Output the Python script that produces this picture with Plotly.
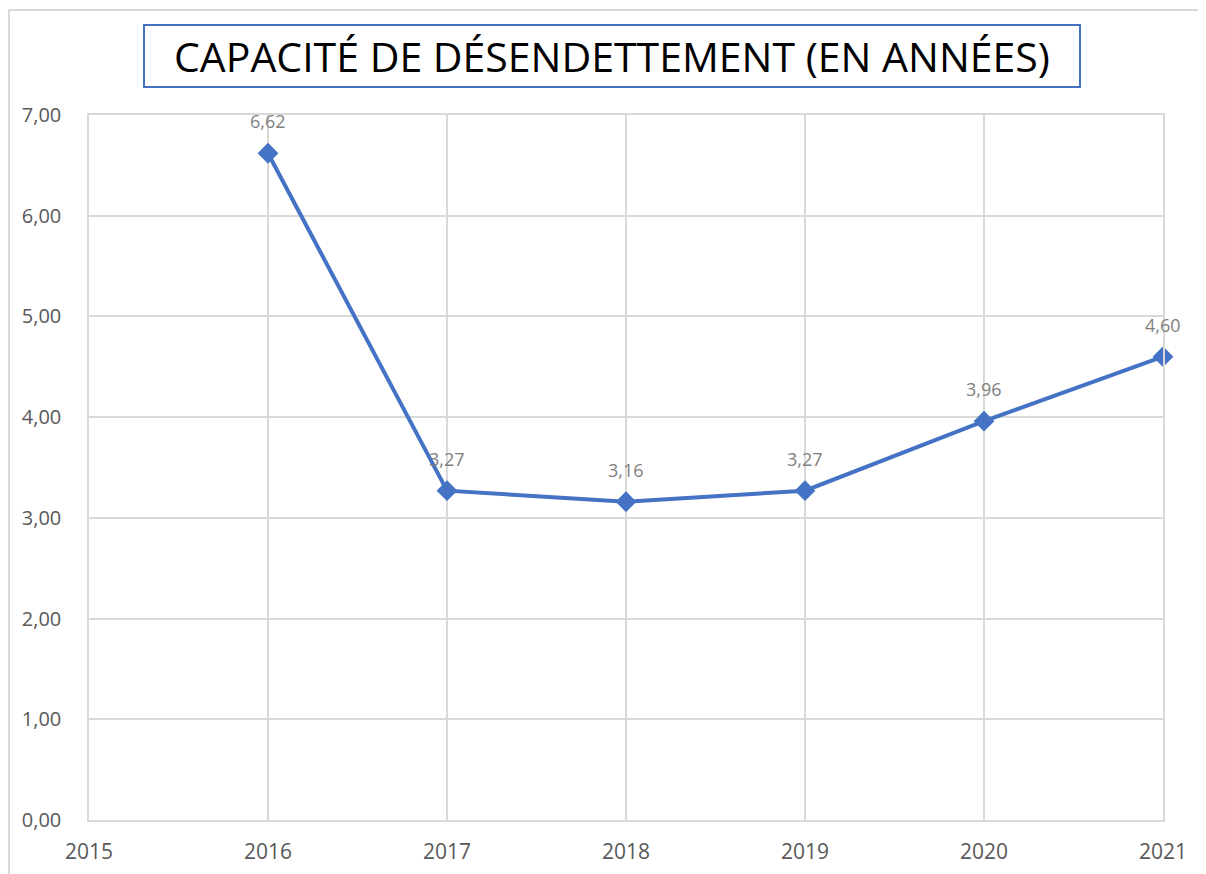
import plotly.graph_objects as go

years = [2016, 2017, 2018, 2019, 2020, 2021]
values = [6.62, 3.27, 3.16, 3.27, 3.96, 4.60]
labels = ["6,62", "3,27", "3,16", "3,27", "3,96", "4,60"]
x_ticks = [2015, 2016, 2017, 2018, 2019, 2020, 2021]
y_ticks = [0, 1, 2, 3, 4, 5, 6, 7]
title = "CAPACITÉ DE DÉSENDETTEMENT (EN ANNÉES)"

W, H = 1206, 874
OFF = 8  # page offset of the figure
L, R, T, B = 89 - OFF, 1206 - 1163 + OFF, 115 - OFF, 874 - 820 + OFF
pw, ph = W - L - R, H - T - B

def px(x):
    return (x - OFF - L) / pw

def py(y):
    return (H - B - (y - OFF)) / ph

fig = go.Figure()
fig.add_trace(go.Scatter(
    x=years, y=values, mode="lines+markers",
    line=dict(color="#4472C4", width=4),
    marker=dict(symbol="diamond", size=16, color="#4472C4"),
    cliponaxis=False, showlegend=False,
))
for xv, yv, lab in zip(years, values, labels):
    fig.add_annotation(x=xv, y=yv, text=lab, showarrow=False, yshift=32,
                       font=dict(family="Open Sans", size=18, color="#7F7F7F"))

grid = "#D9D9D9"
fig.update_layout(
    width=W, height=H,
    margin=dict(l=L, r=R, t=T, b=B),
    paper_bgcolor="white", plot_bgcolor="white",
    separators=", ",
    xaxis=dict(range=[2015, 2021], tickvals=x_ticks, ticktext=[str(v) for v in x_ticks],
               showgrid=True, gridcolor=grid, gridwidth=1.5, zeroline=False,
               showline=True, linecolor=grid, linewidth=1.5, mirror=True,
               tickfont=dict(family="Open Sans", size=21, color="#595959"),
               ticks="", ticklabelstandoff=12),
    yaxis=dict(range=[0, 7], tickvals=y_ticks, tickformat=".2f",
               showgrid=True, gridcolor=grid, gridwidth=1.5, zeroline=False,
               showline=True, linecolor=grid, linewidth=1.5, mirror=True,
               tickfont=dict(family="Open Sans", size=20, color="#595959"),
               ticks="", ticklabelstandoff=22),
)

# title box
fig.add_shape(type="rect", xref="paper", yref="paper",
              x0=px(144), x1=px(1080), y0=py(87), y1=py(25),
              line=dict(color="#4472C4", width=2), fillcolor="white", layer="above")
fig.add_annotation(
    text=title, xref="paper", yref="paper", x=px(612), y=py(56),
    xanchor="center", yanchor="middle", showarrow=False,
    font=dict(family="Open Sans", size=41, color="#000000"),
)

# outer chart border
fig.add_shape(type="rect", xref="paper", yref="paper",
              x0=px(9), x1=px(1214), y0=py(890), y1=py(10),
              line=dict(color="#D9D9D9", width=2), layer="below")

fig.write_html("out.html")
